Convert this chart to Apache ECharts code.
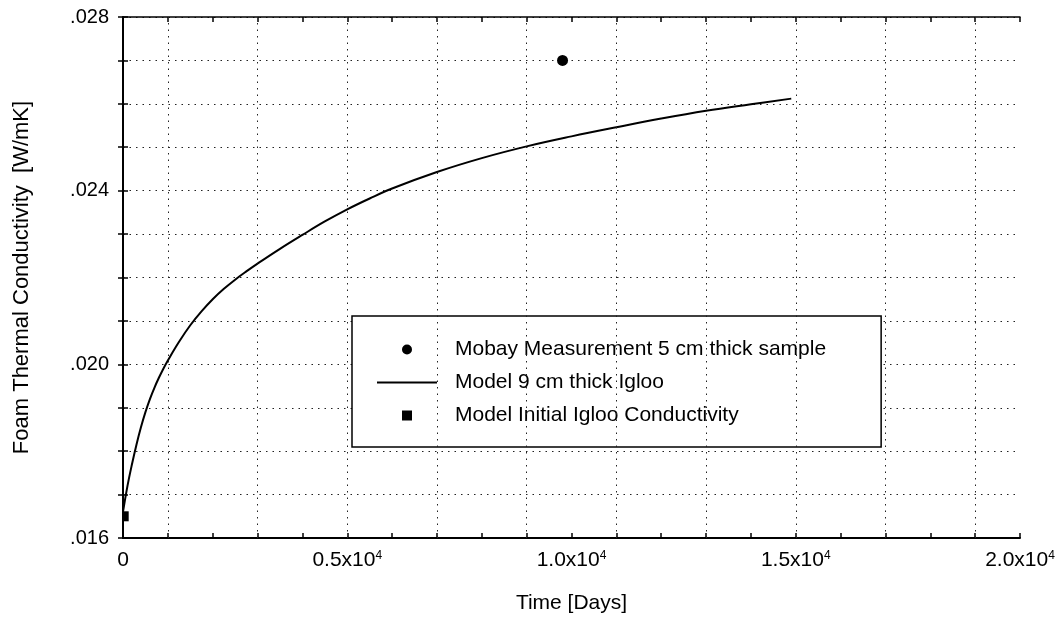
<!DOCTYPE html>
<html>
<head>
<meta charset="utf-8">
<title>Foam Thermal Conductivity</title>
<script src="https://cdn.jsdelivr.net/npm/echarts@6/dist/echarts.min.js"></script>
<style>
  html, body { margin: 0; padding: 0; background: #fff; }
  #chart { width: 1061px; height: 619px; }
</style>
</head>
<body>
<div id="chart"></div>
<script>
// model curve, 9 cm thick igloo (days, W/mK)
const curveDays = [0, 100, 200, 300, 400, 500, 600, 700, 800, 900, 1000, 1250, 1500, 1750, 2000, 2250,
  2500, 2750, 3000, 3500, 4000, 4500, 5000, 5500, 6000, 7000, 8000, 9000, 10000, 11000, 12000, 13000,
  14000, 14900];
const curveK = [0.0166, 0.01720, 0.01770, 0.01815, 0.01855, 0.01890, 0.01920, 0.01946, 0.01969, 0.01990,
  0.02009, 0.02052, 0.02090, 0.02122, 0.02150, 0.02174, 0.02195, 0.02214, 0.02232, 0.02266, 0.02298,
  0.02329, 0.02357, 0.02382, 0.02405, 0.02443, 0.02475, 0.02502, 0.02525, 0.02546, 0.02566, 0.02584,
  0.02599, 0.02612];

// measured point and initial value
const mobayPoint = [9800, 0.0270];
const initialPoint = [60, 0.0165];

// dotted vertical grid positions (days)
const gridDays = [1000, 3000, 5000, 7000, 9000, 11000, 13000, 15000, 17000, 19000];

const seriesNames = [
  'Mobay Measurement 5 cm thick sample',
  'Model 9 cm thick Igloo',
  'Model Initial Igloo Conductivity'
];

const font = '"Liberation Sans", Arial, Helvetica, sans-serif';
const dots = { type: [1.5, 5], color: '#222', width: 1 };

const xLabel = v => {
  if (v % 5000 !== 0) return '';
  if (v === 0) return '{m|0}';
  return '{m|' + (v / 10000).toFixed(1) + 'x10}{s|4}';
};
const yLabel = v => {
  const k = Math.round(v * 1000);
  return k % 4 === 0 ? '.' + String(k).padStart(3, '0') : '';
};

const chart = echarts.init(document.getElementById('chart'));

const option = {
  backgroundColor: '#fff',
  animation: false,
  textStyle: { fontFamily: font, color: '#000' },
  grid: { left: 123, top: 17, right: 41, bottom: 80 },
  legend: {
    left: 352,
    top: 316,
    orient: 'vertical',
    backgroundColor: '#fff',
    borderColor: '#000',
    borderWidth: 1.5,
    padding: [23, 55, 21, 25],
    itemWidth: 60,
    itemHeight: 10,
    itemGap: 12,
    textStyle: { fontFamily: font, fontSize: 21, color: '#000', padding: [0, 0, 0, 13] },
    data: [
      { name: seriesNames[0], icon: 'circle' },
      { name: seriesNames[1], icon: 'path://M0,0H60V2H0Z' },
      { name: seriesNames[2], icon: 'path://M0,0H10V10H0Z' }
    ]
  },
  xAxis: [{
    type: 'value',
    min: 0,
    max: 20000,
    interval: 1000,
    name: 'Time [Days]',
    nameLocation: 'middle',
    nameGap: 55,
    nameTextStyle: { fontFamily: font, fontSize: 21, color: '#000' },
    axisLine: { lineStyle: { color: '#000', width: 2 } },
    axisTick: { inside: true, length: 5, lineStyle: { color: '#000', width: 1.5 } },
    axisLabel: {
      margin: 12,
      formatter: xLabel,
      showMinLabel: true,
      showMaxLabel: true,
      rich: {
        m: { fontFamily: font, fontSize: 21, color: '#000' },
        s: { fontFamily: font, fontSize: 12, color: '#000', verticalAlign: 'top' }
      }
    },
    splitLine: { show: false }
  }, {
    type: 'value',
    position: 'top',
    min: 0,
    max: 20000,
    interval: 1000,
    axisLine: { lineStyle: { color: '#000', width: 1.5 } },
    axisTick: { inside: true, length: 5, lineStyle: { color: '#000', width: 1.5 } },
    axisLabel: { show: false },
    splitLine: { show: false }
  }],
  yAxis: [{
    type: 'value',
    min: 0.016,
    max: 0.028,
    interval: 0.001,
    name: 'Foam Thermal Conductivity  [W/mK]',
    nameLocation: 'middle',
    nameGap: 90,
    nameTextStyle: { fontFamily: font, fontSize: 22, color: '#000' },
    axisLine: { show: true, lineStyle: { color: '#000', width: 2 } },
    axisTick: { show: true, inside: true, length: 5, lineStyle: { color: '#000', width: 1.5 } },
    axisLabel: {
      margin: 14,
      formatter: yLabel,
      fontFamily: font,
      fontSize: 20,
      color: '#000'
    },
    splitLine: { show: true, lineStyle: dots }
  }, {
    type: 'value',
    position: 'right',
    min: 0.016,
    max: 0.028,
    interval: 0.001,
    axisLine: { show: true, lineStyle: { color: '#000', width: 1.5 } },
    axisTick: { show: true, inside: true, length: 5, lineStyle: { color: '#000', width: 1.5 } },
    axisLabel: { show: false },
    splitLine: { show: false }
  }],
  series: [
    {
      name: seriesNames[0],
      type: 'scatter',
      symbol: 'circle',
      symbolSize: 11,
      itemStyle: { color: '#000', opacity: 1 },
      z: 5,
      data: [mobayPoint]
    },
    {
      name: seriesNames[1],
      type: 'line',
      smooth: 0.4,
      symbol: 'none',
      showSymbol: false,
      lineStyle: { color: '#000', width: 2 },
      itemStyle: { color: '#000' },
      z: 4,
      data: curveDays.map((d, i) => [d, curveK[i]]),
      markLine: {
        silent: true,
        symbol: 'none',
        label: { show: false },
        lineStyle: dots,
        data: gridDays.map(d => ({ xAxis: d }))
      }
    },
    {
      name: seriesNames[2],
      type: 'scatter',
      symbol: 'rect',
      symbolSize: [6, 10],
      itemStyle: { color: '#000', opacity: 1 },
      z: 5,
      data: [initialPoint]
    }
  ]
};

chart.setOption(option);
</script>
</body>
</html>
